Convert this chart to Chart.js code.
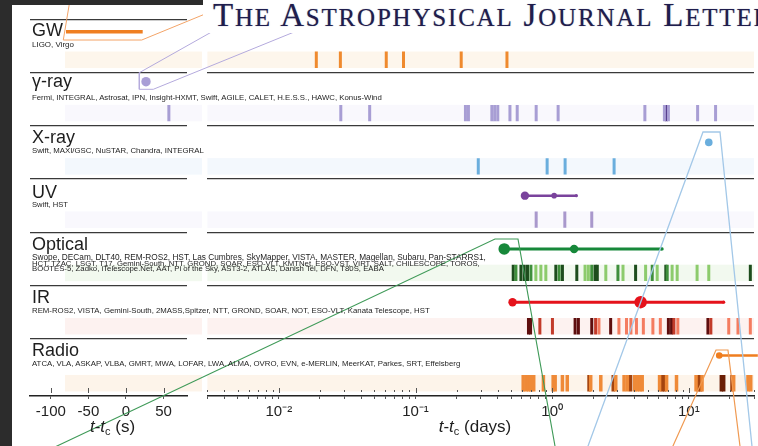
<!DOCTYPE html>
<html>
<head>
<meta charset="utf-8">
<title>GW170817 multi-messenger observation timeline</title>
<script src="https://cdn.jsdelivr.net/npm/chart.js@4.4.1/dist/chart.umd.min.js"></script>
<style>
  html, body { margin:0; padding:0; background:#fff; }
  #stage { position:relative; width:758px; height:446px; overflow:hidden; background:#fff;
           font-family:"Liberation Sans", Arial, sans-serif; color:#1e1e1e; }
  #stage canvas { position:absolute; left:0; top:0; }
  #cRight { z-index:1; }
  #cLeft { z-index:2; }
  .dark { position:absolute; background:#2c2c2c; z-index:3; }
  #header { position:absolute; left:203px; top:0; width:555px; height:33px; background:#fff;
            z-index:4; overflow:hidden; white-space:nowrap; }
  #headText { position:absolute; left:10px; top:-1px; font-family:"Liberation Serif","Times New Roman",serif;
              font-size:33px; line-height:1; letter-spacing:1.8px; color:#1f1d4d;
              text-shadow:0 0 1px rgba(31,29,77,0.55); }
  #headText .sc { font-size:25px; }
  .txt { position:absolute; z-index:5; white-space:nowrap; line-height:1; color:#1e1e1e; }
  .title { font-size:18px; }
  .axt { font-size:17px; text-align:center; width:200px; }
  .axt sub { font-size:11px; vertical-align:baseline; position:relative; top:3px; line-height:0; }
</style>
</head>
<body>
<div id="stage">
  <canvas id="cRight" width="758" height="446"></canvas>
  <canvas id="cLeft" width="758" height="446"></canvas>
  <div class="dark" style="left:0;top:0;width:12px;height:446px"></div>
  <div class="dark" style="left:0;top:0;width:203px;height:5px"></div>
  <div id="header"><div id="headText"></div></div>
</div>
<script>
// ================= DATA =================
// Row labels and facilities
const rowTitles = ['GW', 'γ-ray', 'X-ray', 'UV', 'Optical', 'IR', 'Radio'];
const rowFacilities = [
  ['LIGO, Virgo'],
  ['Fermi, INTEGRAL, Astrosat, IPN, Insight-HXMT, Swift, AGILE, CALET, H.E.S.S., HAWC, Konus-Wind'],
  ['Swift, MAXI/GSC, NuSTAR, Chandra, INTEGRAL'],
  ['Swift, HST'],
  ['Swope, DECam, DLT40, REM-ROS2, HST, Las Cumbres, SkyMapper, VISTA, MASTER, Magellan, Subaru, Pan-STARRS1,',
   'HCT, TZAC, LSGT, T17, Gemini-South, NTT, GROND, SOAR, ESO-VLT, KMTNet, ESO-VST, VIRT, SALT, CHILESCOPE, TOROS,',
   'BOOTES-5, Zadko, iTelescope.Net, AAT, Pi of the Sky, AST3-2, ATLAS, Danish Tel, DFN, T80S, EABA'],
  ['REM-ROS2, VISTA, Gemini-South, 2MASS,Spitzer, NTT, GROND, SOAR, NOT, ESO-VLT, Kanata Telescope, HST'],
  ['ATCA, VLA, ASKAP, VLBA, GMRT, MWA, LOFAR, LWA, ALMA, OVRO, EVN, e-MERLIN, MeerKAT, Parkes, SRT, Effelsberg']
];
const headerWords = ['The', 'Astrophysical', 'Journal', 'Letters'];

// Tick labels
const leftTicks = [-100, -50, 0, 50];
const leftTickLabels = ['-100', '-50', '0', '50'];
const rightMajorTicks = [0.01, 0.1, 1, 10];
const rightTickLabels = ['10⁻²', '10⁻¹', '10⁰', '10¹'];

// Left panel (seconds since coalescence)
const gwSignalSec = [-79.8, 22.2];
const gammaLeftSec = [57];
const gammaLeftDetectSec = [26.6];

// Right panel (days since coalescence) – observation epochs
const gwDays = [0.0188, 0.0282, 0.0611, 0.0817, 0.216, 0.467];
const gammaDays = [0.0284, 0.0462, 0.232, 0.244, 0.362, 0.380, 0.400, 0.491, 0.555, 0.764, 1.106, 4.77, 6.63, 7.09, 11.6, 15.7];
const gammaDarkDays = [6.85];
const xrayDays = [0.288, 0.919, 1.244, 2.84];
const xrayDetectDays = [14.0];
const uvDays = [0.764, 1.238, 1.949];
const uvDetectDays = [0.632, 1.034, 1.504];
const opticalDarkDays = [0.519, 0.591, 0.625, 0.660, 1.064, 1.189, 1.515, 2.06, 2.14, 4.08, 6.79, 28.2];
const opticalMidDays = [0.543, 0.699, 1.125, 1.949, 3.03, 5.40, 6.95];
const opticalLightDays = [0.760, 0.827, 0.899, 1.741, 1.841, 2.47, 3.30, 4.83, 5.87, 7.55, 8.22, 11.5, 14.0];
const opticalDetectDays = [0.446, 1.447, 6.38];
const irDarkDays = [0.671, 0.695, 1.472, 1.556, 1.949, 2.68, 7.09, 7.48, 13.8];
const irMidDays = [0.813, 1.005, 2.08, 7.78, 14.5];
const irLightDays = [2.20, 3.08, 3.50, 3.77, 4.14, 4.65, 5.46, 6.19, 8.31, 19.6, 22.9, 28.2];
const irDetectDays = [0.513, 4.44, 18.0];
const radioDays = [0.614, 0.645, 0.673, 0.697, 0.733, 0.863, 1.017, 1.052, 1.189, 1.29, 1.915, 2.27, 2.92,
                   3.36, 3.55, 4.02, 4.20, 4.39, 4.56, 6.11, 6.88, 8.13, 11.3, 12.5, 21.3, 27.1, 28.4];
const radioDarkDays = [1.862, 2.80, 3.75, 6.38, 6.65, 11.7, 12.2, 20.7];
const radioDarkestDays = [17.3, 18.0];
const radioDetectDays = [16.7, 32];

// Zoom-inset connector outlines (left-panel units: seconds, row units)
const calloutGW = [[-74.5, -0.362], [-83.4, 0.389], [20.9, 0.389], [105.1, -0.099], [118.4, -0.175]];
const calloutGamma = [[130.3, 0.107], [17.7, 1.002], [17.7, 1.314], [36.3, 1.314], [246.5, 0.107]];
const calloutXray = [[834.3, 8.271], [789.9, 2.115], [767.3, 2.115], [607.6, 8.271]];
const calloutOptical = [[573.8, 8.271], [521.3, 4.124], [490.7, 4.124], [-131.1, 8.271]];
const calloutRadio = [[818.8, 8.271], [800.5, 6.207], [784.6, 6.207], [719.0, 8.271]];

// ================= STYLE / LAYOUT =================
const FONT = '"Liberation Sans", Arial, sans-serif';
Chart.defaults.font.family = FONT;
const ROWS = 7, YMAX = 7.07, TOP = 19.3;
const rowLines = [0, 1, 2, 3, 4, 5, 6];
const bandColors = ['#fdf6ec', '#f9f8fd', '#f3f8fd', '#f9f8fd', '#f2f9ef', '#fdf2f0', '#fdf4ea'];
const rowEnd = i => (i === ROWS - 1 ? YMAX : i + 1);
const barY = i => rowEnd(i) - 0.24;
const dotY = i => i + 0.31;
const pts = (arr, y) => arr.map(v => ({ x: v, y }));
const pathPts = arr => arr.map(p => ({ x: p[0], y: p[1] }));

function barSet(arr, row, color, width) {
  return { data: pts(arr, barY(row)), showLine: false, pointStyle: 'line', pointRotation: 90,
           pointRadius: 8.2, pointHoverRadius: 8.2, pointBorderWidth: width || 3,
           pointBorderColor: color, pointBackgroundColor: color, borderColor: color };
}
function detectSet(arr, row, color, radii, lw, clip) {
  return { data: pts(arr, dotY(row)), showLine: true, borderColor: color, borderWidth: lw,
           pointRadius: radii, pointHoverRadius: radii, pointBackgroundColor: color, pointBorderWidth: 0,
           pointStyle: 'circle', clip: clip === undefined ? 10 : clip };
}
function pathSet(arr, color, lw) {
  return { data: pathPts(arr), showLine: true, borderColor: color, borderWidth: lw || 1,
           pointRadius: 0, pointHoverRadius: 0, clip: false, tension: 0 };
}

const bandPlugin = {
  id: 'bands',
  beforeDatasetsDraw(chart, args, opts) {
    const { ctx, chartArea, scales: { x, y } } = chart;
    const x0 = opts.from != null ? x.getPixelForValue(opts.from) : chartArea.left;
    const x1 = opts.to != null ? x.getPixelForValue(opts.to) : chartArea.right;
    ctx.save();
    bandColors.forEach((c, i) => {
      const yt = y.getPixelForValue(rowEnd(i) - 0.395);
      const yb = y.getPixelForValue(rowEnd(i) - 0.085);
      ctx.fillStyle = c;
      ctx.fillRect(x0, yt, x1 - x0, yb - yt);
    });
    ctx.restore();
  }
};
const innerTicks = {
  id: 'innerTicks',
  afterDatasetsDraw(chart) {
    const { ctx, chartArea, scales: { x } } = chart;
    ctx.save();
    ctx.strokeStyle = '#555';
    ctx.lineWidth = 1;
    x.ticks.forEach(t => {
      const px = Math.round(x.getPixelForValue(t.value)) + 0.5;
      const y0 = chartArea.bottom - (t.major ? 8 : 6);
      const y1 = chartArea.bottom - (t.major ? 3 : 4);
      ctx.beginPath(); ctx.moveTo(px, y0); ctx.lineTo(px, y1); ctx.stroke();
    });
    ctx.restore();
  }
};

function yScale() {
  return {
    type: 'linear', reverse: true, min: 0, max: YMAX, position: 'left',
    afterBuildTicks: s => { s.ticks = rowLines.map(v => ({ value: v })); },
    afterFit: s => { s.width = 0; },
    ticks: { display: false },
    border: { display: false },
    grid: { color: '#3a3a3a', lineWidth: 1.3, drawTicks: false }
  };
}
const xTickFont = { family: FONT, size: 15 };

// ---------- right panel: days, log scale ----------
const logTickValues = [];
for (let e = -3; e <= 1; e++) for (let m = 1; m <= 9; m++) {
  const v = m * Math.pow(10, e);
  if (v >= 0.003 * 0.999 && v <= 30 * 1.001) logTickValues.push(v);
}
const isMajor = v => rightMajorTicks.some(t => Math.abs(Math.log10(v) - Math.log10(t)) < 1e-6);

const right = new Chart(document.getElementById('cRight'), {
  type: 'scatter',
  data: { datasets: [
    barSet(gwDays, 0, '#ef8a2e'),
    barSet(gammaDays, 1, '#a89ed4'),
    barSet(gammaDarkDays, 1, '#4f3585'),
    barSet(xrayDays, 2, '#6aaedd'),
    detectSet(xrayDetectDays, 2, '#6aaedd', [3.8], 2),
    barSet(uvDays, 3, '#a998cc'),
    detectSet(uvDetectDays, 3, '#7a439c', [4.2, 2.8, 1.6], 2.5),
    barSet(opticalLightDays, 4, '#8ccb6c'),
    barSet(opticalMidDays, 4, '#3f8f3c'),
    barSet(opticalDarkDays, 4, '#1d4d1d'),
    detectSet(opticalDetectDays, 4, '#17883a', [5.8, 4.2, 1.6], 3),
    barSet(irLightDays, 5, '#f47c60'),
    barSet(irMidDays, 5, '#c23b2a'),
    barSet(irDarkDays, 5, '#5e0e0e'),
    detectSet(irDetectDays, 5, '#e5121b', [4.2, 6.2, 1.6], 3),
    barSet(radioDays, 6, '#ef8a38', 3.5),
    barSet(radioDarkDays, 6, '#a4440f', 3.5),
    barSet(radioDarkestDays, 6, '#6b1e05', 3.5),
    detectSet(radioDetectDays, 6, '#ef7d1e', [3.3, 0], 2.6, false)
  ]},
  options: {
    responsive: false, animation: false, events: [],
    layout: { padding: { left: 207.4, right: 2.6, top: TOP, bottom: 0 }, autoPadding: false },
    plugins: { legend: { display: false }, tooltip: { enabled: false }, bands: {} },
    scales: {
      x: {
        type: 'logarithmic', min: 0.003, max: 30, position: 'bottom',
        afterBuildTicks: s => { s.ticks = logTickValues.map(v => ({ value: v, major: isMajor(v) })); },
        afterFit: s => { s.height = 50; },
        ticks: {
          autoSkip: false, maxRotation: 0, minRotation: 0, padding: 4, color: '#222', font: xTickFont,
          callback: v => { const k = rightMajorTicks.findIndex(t => Math.abs(Math.log10(v) - Math.log10(t)) < 1e-6); return k >= 0 ? rightTickLabels[k] : ''; }
        },
        grid: { drawOnChartArea: false, drawTicks: true, tickLength: 3, color: '#555', lineWidth: 1 },
        border: { display: true, color: '#222', width: 1.5 }
      },
      y: yScale()
    }
  },
  plugins: [bandPlugin, innerTicks]
});

// ---------- left panel: seconds, linear scale ----------
const left = new Chart(document.getElementById('cLeft'), {
  type: 'scatter',
  data: { datasets: [
    { data: pts(gwSignalSec, 0.233), showLine: true, borderColor: '#ef7f22', borderWidth: 3.4, pointRadius: 0, pointHoverRadius: 0, clip: false },
    barSet(gammaLeftSec, 1, '#a89ed4'),
    { data: pts(gammaLeftDetectSec, 1.171), showLine: false, pointRadius: 4.7, pointHoverRadius: 4.7, pointBackgroundColor: '#a99ed6', pointBorderWidth: 0, clip: false },
    pathSet(calloutGW, '#f3a468', 1),
    pathSet(calloutGamma, '#b4aadd', 1),
    pathSet(calloutXray, '#a3c8e8', 1.3),
    pathSet(calloutOptical, '#3f9a58', 1.1),
    pathSet(calloutRadio, '#f09a52', 1.2)
  ]},
  options: {
    responsive: false, animation: false, events: [],
    layout: { padding: { left: 30, right: 571, top: TOP, bottom: 0 }, autoPadding: false },
    plugins: { legend: { display: false }, tooltip: { enabled: false }, bands: { from: -81.1, to: 101 } },
    scales: {
      x: {
        type: 'linear', min: -127.66, max: 81.12, position: 'bottom',
        afterBuildTicks: s => { s.ticks = leftTicks.map(v => ({ value: v, major: true })); },
        afterFit: s => { s.height = 50; },
        ticks: {
          autoSkip: false, maxRotation: 0, minRotation: 0, padding: 4, color: '#222', font: xTickFont,
          callback: (v, i) => leftTickLabels[leftTicks.indexOf(v)] ?? ''
        },
        grid: { drawOnChartArea: false, drawTicks: true, tickLength: 3, color: '#555', lineWidth: 1 },
        border: { display: true, color: '#222', width: 1.5 }
      },
      y: yScale()
    }
  },
  plugins: [bandPlugin, innerTicks]
});

// ================= TEXT =================
const stage = document.getElementById('stage');
function addText(html, cls, x, y) {
  const d = document.createElement('div');
  d.className = 'txt ' + cls;
  d.innerHTML = html;
  d.style.left = x + 'px';
  d.style.top = y + 'px';
  stage.appendChild(d);
  return d;
}
const LAYOUT = {
  textLeft: 32,
  titleBase: [17.4, 14.5, 17.3, 19, 17.4, 17.3, 17.4],
  subBase: 28, subLineGap: 5.1,
  subRight: [[74], [383], [204], [68], [486, 481, 386], [430], [462]]
};
const meas = document.createElement('canvas').getContext('2d');
meas.font = '10px ' + FONT;
const yS = right.scales.y;
rowTitles.forEach((t, i) => {
  const top = yS.getPixelForValue(i);
  const titleSize = 18;
  addText(t, 'title', LAYOUT.textLeft, top + LAYOUT.titleBase[i] - 0.8465 * titleSize);
  const lines = rowFacilities[i];
  lines.forEach((line, j) => {
    const target = LAYOUT.subRight[i][j] - LAYOUT.textLeft;
    const size = 10 * target / meas.measureText(line).width;
    const base = top + LAYOUT.subBase + (lines.length > 1 ? 1 : 0) + j * LAYOUT.subLineGap;
    const el = addText('', 'sub', LAYOUT.textLeft, base - 0.8465 * size);
    el.textContent = line;
    el.style.fontSize = size.toFixed(2) + 'px';
  });
});
addText('<i>t</i>-<i>t</i><sub>c</sub> (s)', 'axt', 112.5 - 100, 432 - 0.8465 * 17);
addText('<i>t</i>-<i>t</i><sub>c</sub> (days)', 'axt', 475 - 100, 432 - 0.8465 * 17);

// Journal header
const ht = document.getElementById('headText');
ht.innerHTML = headerWords.map(w => w[0].toUpperCase() + '<span class="sc">' + w.slice(1).toUpperCase() + '</span>').join(' ');
</script>
</body>
</html>
